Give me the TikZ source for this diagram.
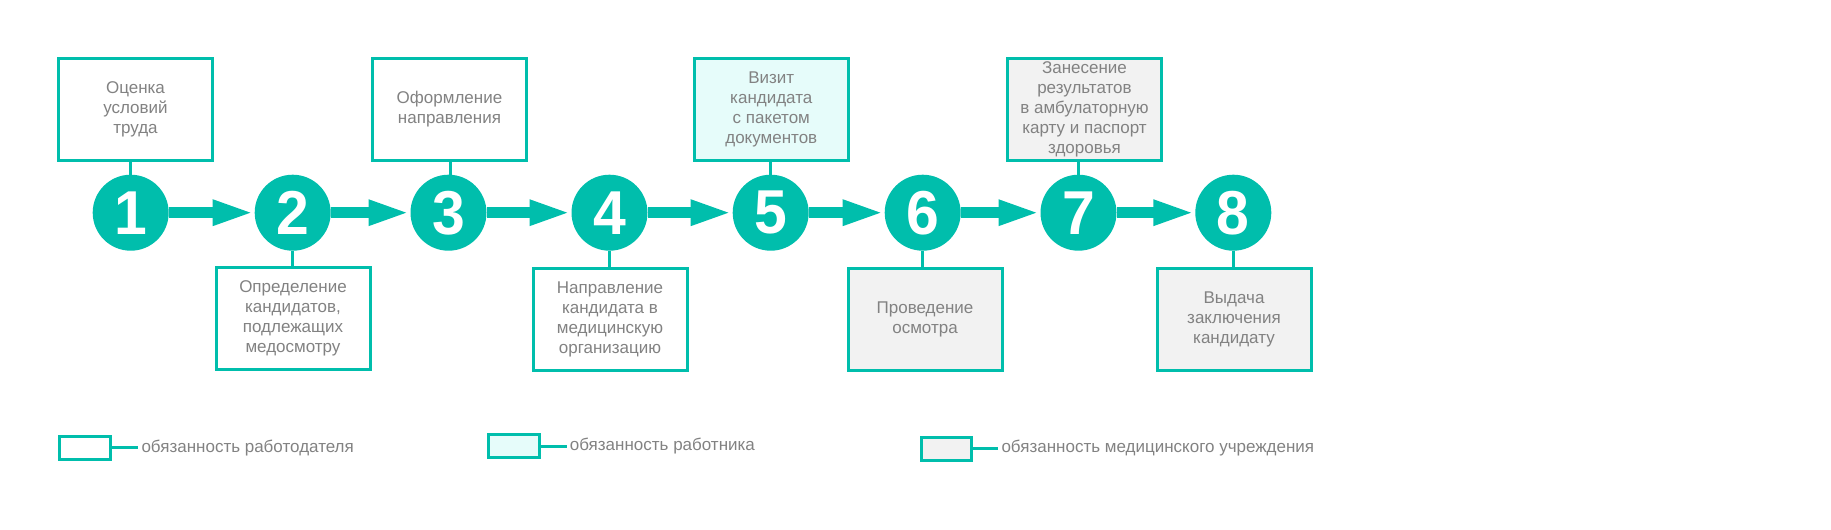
\documentclass[tikz,border=0pt]{standalone}
\usepackage{fontspec}
\setmainfont{Liberation Sans}
\usetikzlibrary{arrows.meta}
\definecolor{tl}{RGB}{0,190,172}
\definecolor{txt}{RGB}{130,130,130}
\definecolor{cyanf}{RGB}{230,252,250}
\definecolor{grayf}{RGB}{242,242,242}
\begin{document}
\begin{tikzpicture}[x=1pt,y=-1pt,
  box/.style={draw=tl, line width=3pt, minimum width=154pt, minimum height=102pt,
    inner sep=0pt, align=center, text=txt, font=\fontsize{17}{20}\selectfont},
  emp/.style={box, fill=white},
  wrk/.style={box, fill=cyanf},
  med/.style={box, fill=grayf},
  lbox/.style={draw=tl, line width=3pt, minimum width=50.5pt, minimum height=23pt, inner sep=0pt},
  ltext/.style={anchor=west, inner sep=3pt, text=txt, font=\fontsize{17}{20}\selectfont},
  num/.style={circle, fill=tl, minimum size=76pt, inner sep=0pt, outer sep=0pt,
    text=white, font=\fontsize{62}{62}\bfseries\selectfont},
  arr/.style={draw=tl, line width=10.5pt, -{Triangle[length=42pt,width=23pt]}},
  conn/.style={draw=tl, line width=3pt}]
\useasboundingbox (0,0) rectangle (1831,530);

% circles
\node[num] (c1) at (130.7,212.7) {\scalebox{0.95}[1]{1}};
\node[num] (c2) at (292.7,212.7) {\scalebox{0.95}[1]{2}};
\node[num] (c3) at (448.5,212.7) {\scalebox{0.95}[1]{3}};
\node[num] (c4) at (609.5,212.7) {\scalebox{0.95}[1]{4}};
\node[num] (c5) at (770.7,212.7) {\scalebox{0.95}[1]{5}};
\node[num] (c6) at (922.7,212.7) {\scalebox{0.95}[1]{6}};
\node[num] (c7) at (1078.5,212.7) {\scalebox{0.95}[1]{7}};
\node[num] (c8) at (1233.3,212.7) {\scalebox{0.95}[1]{8}};

% boxes
\node[emp] (b1) at (135.5,109.5) {Оценка\\условий\\труда};
\node[emp] (b3) at (449.5,109.5) {Оформление\\направления};
\node[wrk] (b5) at (771.3,109.5) {Визит\\кандидата\\с пакетом\\документов};
\node[med] (b7) at (1084.5,109.2) {Занесение\\результатов\\в амбулаторную\\карту и паспорт\\здоровья};
\node[emp] (b2) at (293,318.5) {Определение\\кандидатов,\\подлежащих\\медосмотру};
\node[emp] (b4) at (610,319) {Направление\\кандидата в\\медицинскую\\организацию};
\node[med] (b6) at (925,319) {Проведение\\осмотра};
\node[med] (b8) at (1234,319) {Выдача\\заключения\\кандидату};

% box connectors
\draw[conn] (c1.north) -- (c1.north |- b1.south);
\draw[conn] (c3.north) ++(2,0) coordinate (c3n) -- (c3n |- b3.south);
\draw[conn] (c5.north) -- (c5.north |- b5.south);
\draw[conn] (c7.north) -- (c7.north |- b7.south);
\draw[conn] (c2.south) -- (c2.south |- b2.north);
\draw[conn] (c4.south) -- (c4.south |- b4.north);
\draw[conn] (c6.south) -- (c6.south |- b6.north);
\draw[conn] (c8.south) -- (c8.south |- b8.north);

% arrows
\draw[arr] (c1) -- (c2);
\draw[arr] (c2) -- (c3);
\draw[arr] (c3) -- (c4);
\draw[arr] (c4) -- (c5);
\draw[arr] (c5) -- (c6);
\draw[arr] (c6) -- (c7);
\draw[arr] (c7) -- (c8);

% legend
\node[lbox, fill=white] (l1) at (85,447.8) {};
\node[ltext] (t1) at (138.3,447.8) {обязанность работодателя};
\draw[conn] (l1.east) -- (t1.west);
\node[lbox, fill=cyanf] (l2) at (514,446.3) {};
\node[ltext] (t2) at (566.7,446.3) {обязанность работника};
\draw[conn] (l2.east) -- (t2.west);
\node[lbox, fill=grayf] (l3) at (946.3,448.5) {};
\node[ltext] (t3) at (998.3,448.5) {обязанность медицинского учреждения};
\draw[conn] (l3.east) -- (t3.west);
\end{tikzpicture}
\end{document}
